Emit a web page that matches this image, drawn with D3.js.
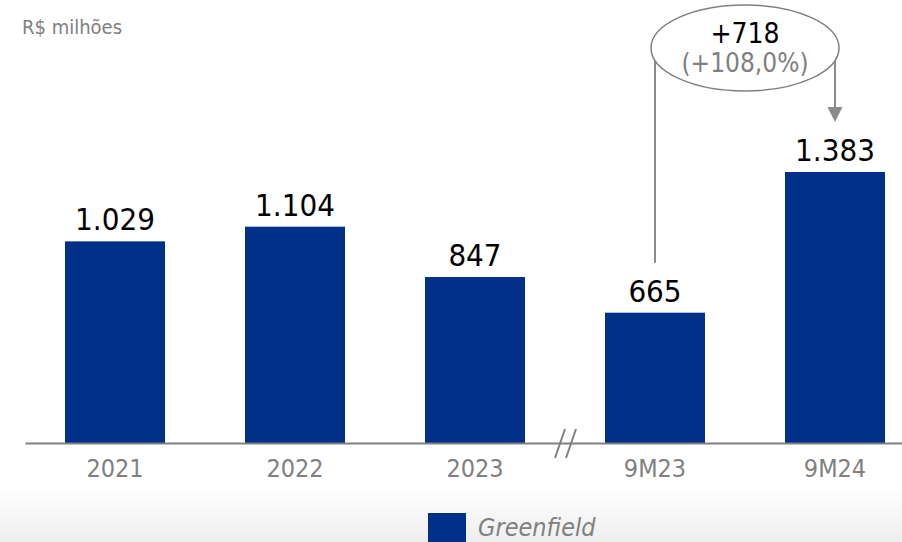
<!DOCTYPE html>
<html>
<head>
<meta charset="utf-8">
<script src="https://cdn.jsdelivr.net/npm/d3@7"></script>
<style>
  html, body { margin: 0; padding: 0; background: #fff; }
  svg { display: block; font-family: Tahoma, "DejaVu Sans Condensed", "DejaVu Sans", sans-serif; }
</style>
</head>
<body>
<svg id="chart"></svg>
<script>
// chart data
const categories = ['2021', '2022', '2023', '9M23', '9M24'];
const values = [1029, 1104, 847, 665, 1383];
const valueLabels = ['1.029', '1.104', '847', '665', '1.383'];
const unitLabel = 'R$ milhões';
const seriesName = 'Greenfield';
const deltaLabel = '+718';
const deltaPctLabel = '(+108,0%)';
const deltaFrom = '9M23';
const deltaTo = '9M24';
const breakAfter = '2023';

const width = 902, height = 542;
const baseY = 443;
const barColor = '#003087';
const grey = '#808080';

const svg = d3.select('#chart')
    .attr('width', width)
    .attr('height', height);

// background, fading to grey at the bottom
const defs = svg.append('defs');
const grad = defs.append('linearGradient')
    .attr('id', 'bg').attr('x1', 0).attr('y1', 0).attr('x2', 0).attr('y2', 1);
grad.append('stop').attr('offset', '0.9').attr('stop-color', '#ffffff');
grad.append('stop').attr('offset', '1').attr('stop-color', '#eeeeee');
svg.append('rect')
    .attr('width', width).attr('height', height)
    .attr('fill', 'url(#bg)');

// scales
const x = d3.scaleBand()
    .domain(categories)
    .range([25, 925])
    .paddingInner(80 / 180)
    .paddingOuter(40 / 180);

const y = d3.scaleLinear()
    .domain([0, 1383])
    .range([baseY, 172]);

// bars
svg.append('g')
    .selectAll('rect')
    .data(categories)
    .join('rect')
    .attr('x', d => x(d))
    .attr('y', (d, i) => y(values[i]))
    .attr('width', x.bandwidth())
    .attr('height', (d, i) => y(0) - y(values[i]))
    .attr('fill', barColor);

// value labels
svg.append('g')
    .selectAll('text')
    .data(categories)
    .join('text')
    .attr('x', d => x(d) + x.bandwidth() / 2)
    .attr('y', (d, i) => y(values[i]) - 11)
    .attr('text-anchor', 'middle')
    .attr('font-size', 31)
    .attr('fill', '#000')
    .text((d, i) => valueLabels[i]);

// x axis
const xAxis = d3.axisBottom(x).tickSize(0).tickPadding(0);
const gx = svg.append('g')
    .attr('transform', 'translate(0,' + baseY + ')')
    .call(xAxis)
    .attr('font-family', null)
    .attr('font-size', null);
gx.select('.domain')
    .attr('stroke', grey)
    .attr('stroke-width', 2);
gx.selectAll('.tick text')
    .attr('y', 34)
    .attr('dy', 0)
    .attr('font-size', 25)
    .attr('fill', grey);

// axis break marks
const bx = x(breakAfter) + x.bandwidth() + (x.step() - x.bandwidth()) / 2;
svg.append('g')
    .selectAll('line')
    .data([-5, 6])
    .join('line')
    .attr('x1', d => bx + d - 5)
    .attr('y1', baseY + 15)
    .attr('x2', d => bx + d + 5)
    .attr('y2', baseY - 14)
    .attr('stroke', grey)
    .attr('stroke-width', 2);

// unit label
svg.append('text')
    .attr('x', 22)
    .attr('y', 34)
    .attr('font-size', 20)
    .attr('fill', grey)
    .text(unitLabel);

// growth callout
const fromX = x(deltaFrom) + x.bandwidth() / 2;
const toX = x(deltaTo) + x.bandwidth() / 2;
const cx = (fromX + toX) / 2, cy = 48, rx = 94, ry = 43;
const dx = (toX - fromX) / 2;
const edgeY = cy + ry * Math.sqrt(1 - (dx / rx) * (dx / rx));
const fromY = y(values[categories.indexOf(deltaFrom)]) - 50;
const tipY = y(values[categories.indexOf(deltaTo)]) - 50;

svg.append('ellipse')
    .attr('cx', cx).attr('cy', cy)
    .attr('rx', rx).attr('ry', ry)
    .attr('fill', 'none')
    .attr('stroke', grey)
    .attr('stroke-width', 1.5);

svg.append('line')
    .attr('x1', fromX).attr('y1', edgeY)
    .attr('x2', fromX).attr('y2', fromY)
    .attr('stroke', '#8c8c8c')
    .attr('stroke-width', 2);

svg.append('line')
    .attr('x1', toX).attr('y1', edgeY)
    .attr('x2', toX).attr('y2', tipY - 14)
    .attr('stroke', '#8c8c8c')
    .attr('stroke-width', 2);

svg.append('path')
    .attr('d', d3.line()([[toX - 7.5, tipY - 15], [toX + 7.5, tipY - 15], [toX, tipY]]) + 'Z')
    .attr('fill', '#8c8c8c');

svg.append('text')
    .attr('x', cx).attr('y', 43)
    .attr('text-anchor', 'middle')
    .attr('font-size', 28)
    .attr('fill', '#000')
    .text(deltaLabel);

svg.append('text')
    .attr('x', cx).attr('y', 72)
    .attr('text-anchor', 'middle')
    .attr('font-size', 26)
    .attr('fill', grey)
    .text(deltaPctLabel);

// legend
const legend = svg.append('g').attr('transform', 'translate(428,513)');
legend.append('rect')
    .attr('width', 38).attr('height', 30)
    .attr('fill', barColor);
legend.append('text')
    .attr('x', 50).attr('y', 23)
    .attr('font-size', 25)
    .attr('font-style', 'italic')
    .attr('fill', grey)
    .text(seriesName);
</script>
</body>
</html>
